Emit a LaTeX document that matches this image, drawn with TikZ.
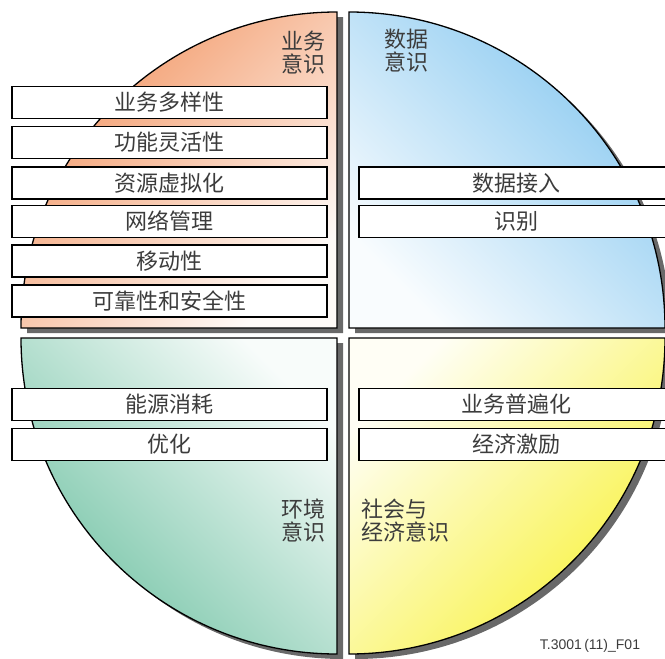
\documentclass[tikz,border=0pt]{standalone}
\usepackage{fontspec}
\setmainfont{Noto Sans CJK SC}
\newfontfamily\idfont{Liberation Sans}
\definecolor{orangeQ}{RGB}{242,150,100}
\definecolor{blueQ}{RGB}{135,200,240}
\definecolor{greenQ}{RGB}{115,195,165}
\definecolor{yellowQ}{RGB}{248,242,60}
\definecolor{shadowgray}{RGB}{105,105,105}
\definecolor{textgray}{RGB}{60,60,60}
\begin{document}
\begin{tikzpicture}[x=1pt,y=-1pt,
  quadline/.style={draw=black, line width=1.3pt},
  shadowfill/.style={fill=shadowgray},
  itembox/.style={draw=black, line width=1.2pt, fill=white, minimum width=315, minimum height=32, inner sep=0pt, font=\fontsize{22}{23}\selectfont, text=textgray},
  qlabel/.style={inner sep=0pt, font=\fontsize{22}{23}\selectfont, text=textgray}]
\useasboundingbox (0,0) rectangle (665,659);
\clip (0,0) rectangle (665,659);
% shadows
\begin{scope}[shift={(6,5)}]
\fill[shadowfill] (337,328) -- (21,328) arc[start angle=180, end angle=270, radius=316] -- cycle;
\fill[shadowfill] (349,328) -- (349,12) arc[start angle=270, end angle=360, radius=316] -- cycle;
\fill[shadowfill] (337,338) -- (337,654) arc[start angle=90, end angle=180, radius=316] -- cycle;
\fill[shadowfill] (349,338) -- (665,338) arc[start angle=0, end angle=90, radius=316] -- cycle;
\end{scope}
% quadrants
\shade[top color=orangeQ, middle color=orangeQ!70, bottom color=orangeQ!5, shading angle=45] (337,328) -- (21,328) arc[start angle=180, end angle=270, radius=316] -- cycle;
\draw[quadline] (337,328) -- (21,328) arc[start angle=180, end angle=270, radius=316] -- cycle;
\shade[top color=blueQ, middle color=blueQ!70, bottom color=blueQ!5, shading angle=-45] (349,328) -- (349,12) arc[start angle=270, end angle=360, radius=316] -- cycle;
\draw[quadline] (349,328) -- (349,12) arc[start angle=270, end angle=360, radius=316] -- cycle;
\shade[top color=greenQ!5, middle color=greenQ!70, bottom color=greenQ, shading angle=-45] (337,338) -- (337,654) arc[start angle=90, end angle=180, radius=316] -- cycle;
\draw[quadline] (337,338) -- (337,654) arc[start angle=90, end angle=180, radius=316] -- cycle;
\shade[top color=yellowQ!5, middle color=yellowQ!70, bottom color=yellowQ, shading angle=45] (349,338) -- (665,338) arc[start angle=0, end angle=90, radius=316] -- cycle;
\draw[quadline] (349,338) -- (665,338) arc[start angle=0, end angle=90, radius=316] -- cycle;
% boxes
\node[itembox] (b1) at (169.5,102.5) {业务多样性};
\node[itembox] (b2) at (169.5,142.5) {功能灵活性};
\node[itembox] (b3) at (169.5,183) {资源虚拟化};
\node[itembox] (b4) at (169.5,221.5) {网络管理};
\node[itembox] (b5) at (169.5,261) {移动性};
\node[itembox] (b6) at (169.5,301) {可靠性和安全性};
\node[itembox] (d1) at (516.5,183) {数据接入};
\node[itembox] (d2) at (516.5,221.5) {识别};
\node[itembox] (e1) at (169.5,404.5) {能源消耗};
\node[itembox] (e2) at (169.5,444.5) {优化};
\node[itembox] (s1) at (516.5,404.5) {业务普遍化};
\node[itembox] (s2) at (516.5,444.5) {经济激励};
% labels
\node[qlabel, anchor=north east, align=right] (lbiz) at (326,31) {业务\\意识};
\node[qlabel, anchor=north west, align=left] (ldata) at (384,29) {数据\\意识};
\node[qlabel, anchor=north east, align=right] (lenv) at (326,499) {环境\\意识};
\node[qlabel, anchor=north west, align=left] (lsoc) at (361,499) {社会与\\经济意识};
\node[inner sep=0pt, font=\idfont\fontsize{14}{15}\selectfont, text=textgray] (fid) at (590,646) {T.3001\,(11)\_F01};
\end{tikzpicture}
\end{document}
